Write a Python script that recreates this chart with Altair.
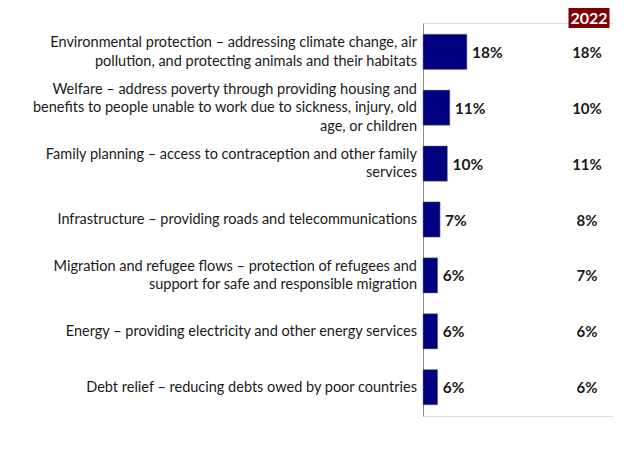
import altair as alt
import pandas as pd

categories = [
    "Environmental protection – addressing climate change, air\npollution, and protecting animals and their habitats",
    "Welfare – address poverty through providing housing and\nbenefits to people unable to work due to sickness, injury, old\nage, or children",
    "Family planning – access to contraception and other family\nservices",
    "Infrastructure – providing roads and telecommunications",
    "Migration and refugee flows – protection of refugees and\nsupport for safe and responsible migration",
    "Energy – providing electricity and other energy services",
    "Debt relief – reducing debts owed by poor countries",
]
values_current = [18, 11, 10, 7, 6, 6, 6]
values_2022 = [18, 10, 11, 8, 7, 6, 6]
header_label = ["2022"]

df = pd.DataFrame({
    "cat": categories,
    "v": values_current,
    "v22": values_2022,
})
df["vlab"] = df["v"].astype(str) + "%"
df["v22lab"] = df["v22"].astype(str) + "%"
df["nl"] = df["cat"].str.count("\n") + 1

FONT = "Lato"
LH = 18.5
TXT = "#1a1a1a"

y_enc = alt.Y("cat:N", sort=categories,
              scale=alt.Scale(paddingInner=0.37, paddingOuter=0.2),
              axis=alt.Axis(labels=False, ticks=False, title=None, grid=False,
                            domainColor="#8c8c8c", domainWidth=1))
y_plain = alt.Y("cat:N", sort=categories)
x_scale = alt.Scale(domain=[0, 80], range=[0, 195.2])

base = alt.Chart(df)

bars = base.mark_bar(color="#000080", stroke="#7f7f7f", strokeWidth=0.5).encode(
    y=y_enc,
    x=alt.X("v:Q", scale=x_scale, axis=None),
)

vals = base.mark_text(align="left", baseline="middle", dx=5, dy=1, font=FONT,
                      fontSize=15.5, fontWeight="bold", color=TXT).encode(
    y=y_plain,
    x=alt.X("v:Q", scale=x_scale, axis=None),
    text="vlab:N",
)

label_layers = []
for n in (1, 2, 3):
    label_layers.append(
        base.transform_filter(alt.datum.nl == n).mark_text(
            align="right", baseline="middle", lineBreak="\n", font=FONT,
            fontSize=14.5, lineHeight=LH, color=TXT, dy=-(n - 1) * LH / 2 + 0.5,
        ).encode(
            y=y_plain,
            x=alt.value(-6),
            text="cat:N",
        )
    )

col22 = base.mark_text(align="center", baseline="middle", dy=1, font=FONT, fontSize=15,
                       fontWeight="bold", color=TXT).encode(
    y=y_plain,
    x=alt.value(164),
    text="v22lab:N",
)

hdf = pd.DataFrame({"h": header_label})
hdr_box = alt.Chart(hdf).mark_rect(color="#7f0000").encode(
    x=alt.value(145.5), x2=alt.value(186.5), y=alt.value(-15), y2=alt.value(5),
)
hdr_txt = alt.Chart(hdf).mark_text(align="center", baseline="middle", font=FONT,
                                   fontSize=16, fontWeight="bold", color="white").encode(
    x=alt.value(166), y=alt.value(-4.5), text="h:N",
)

chart = alt.layer(bars, vals, *label_layers, col22, hdr_box, hdr_txt).properties(
    width=190, height=393,
    autosize=alt.AutoSizeParams(type="none"),
    padding={"left": 415, "top": 15, "right": 0, "bottom": 40},
).configure_view(stroke=None).configure(background="white")

chart.save("out.html", embed_options={"renderer": "svg", "actions": False})
